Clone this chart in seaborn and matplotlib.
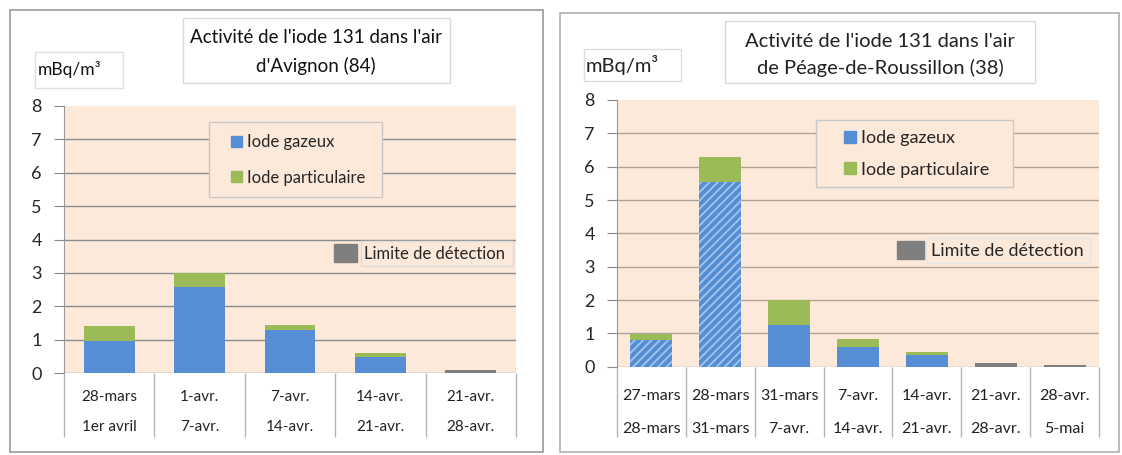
import matplotlib
matplotlib.use("Agg")
import matplotlib.pyplot as plt
from matplotlib.patches import Rectangle, Patch
import seaborn as sns

# Avignon (84)
avignon_periods = ["28-mars\n1er avril", "1-avr.\n7-avr.", "7-avr.\n14-avr.",
                   "14-avr.\n21-avr.", "21-avr.\n28-avr."]
avignon_gazeux = [0.97, 2.57, 1.30, 0.49, 0.0]
avignon_particulaire = [0.44, 0.43, 0.14, 0.11, 0.0]
avignon_limite = [0.0, 0.0, 0.0, 0.0, 0.09]

# Péage-de-Roussillon (38)
peage_periods = ["27-mars\n28-mars", "28-mars\n31-mars", "31-mars\n7-avr.",
                 "7-avr.\n14-avr.", "14-avr.\n21-avr.", "21-avr.\n28-avr.",
                 "28-avr.\n5-mai"]
peage_gazeux = [0.80, 5.55, 1.25, 0.58, 0.35, 0.0, 0.0]
peage_particulaire = [0.17, 0.75, 0.75, 0.25, 0.10, 0.0, 0.0]
peage_limite = [0.0, 0.0, 0.0, 0.0, 0.0, 0.12, 0.05]
peage_hatched = [0, 1]

y_ticks = list(range(9))
unit_label = "mBq/m³"
title_avignon = "Activité de l'iode 131 dans l'air\nd'Avignon (84)"
title_peage = "Activité de l'iode 131 dans l'air\nde Péage-de-Roussillon (38)"
legend_labels = ["Iode gazeux", "Iode particulaire"]
limite_label = "Limite de détection"

BLUE = "#558ed5"
GREEN = "#9bbb59"
GRAY = "#7f7f7f"
PEACH = "#fde9d9"

sns.set_style("white")
plt.rcParams["font.family"] = ["Lato", "DejaVu Sans"]
plt.rcParams["hatch.linewidth"] = 1.3

W, H = 1122, 455
fig = plt.figure(figsize=(W / 100, H / 100), dpi=100)
fig.patch.set_facecolor("white")


def fx(x):
    return x / W


def fy(y):
    return 1 - y / H


def box(x0, y0, x1, y1, **kw):
    r = Rectangle((fx(x0), fy(y1)), (x1 - x0) / W, (y1 - y0) / H,
                  transform=fig.transFigure, **kw)
    fig.add_artist(r)
    return r


def add_axes(x0, y0, x1, y1):
    return fig.add_axes([fx(x0), fy(y1), (x1 - x0) / W, (y1 - y0) / H])


def legend(handles, labels, x, y, **kw):
    leg = fig.legend(handles, labels, loc="center left",
                     bbox_to_anchor=(fx(x), fy(y)),
                     bbox_transform=fig.transFigure, frameon=False,
                     borderpad=0, borderaxespad=0, **kw)
    leg.set_zorder(5)
    return leg


def panel(ax, periods, gazeux, part, limite, hatched, grid_color, width,
          table_bottom, label_size, label_spacing, label_pad):
    total = [g + p for g, p in zip(gazeux, part)]
    common = dict(x=periods, width=width, saturation=1, errorbar=None, ax=ax,
                  linewidth=0)
    sns.barplot(y=total, color=GREEN, **common)
    sns.barplot(y=gazeux, color=BLUE, **common)
    sns.barplot(y=limite, color=GRAY, **common)
    for i in hatched:
        bar = ax.containers[1][i]
        bar.set_hatch("////")
        bar.set_edgecolor("#a3c4ee")
        bar.set_linewidth(0)

    n = len(periods)
    ax.set_xlim(-0.5, n - 0.5)
    ax.set_ylim(0, 8)
    ax.set_yticks(y_ticks)
    ax.set_facecolor(PEACH)
    ax.set_axisbelow(True)
    ax.yaxis.grid(True, color=grid_color, lw=1)
    ax.yaxis.get_gridlines()[-1].set_visible(False)
    for s in ["top", "right", "bottom"]:
        ax.spines[s].set_visible(False)
    ax.spines["left"].set_color("#999999")
    ax.tick_params(axis="y", length=7, color="#888888", labelsize=13,
                   pad=9, left=True)
    ax.tick_params(axis="x", length=0, labelsize=label_size, pad=label_pad)
    for lbl in ax.get_xticklabels():
        lbl.set_linespacing(label_spacing)
        lbl.set_color("#222222")
    ax.set_xlabel("")
    ax.set_ylabel("")
    ax.vlines([i - 0.5 for i in range(n + 1)], table_bottom, 0,
              transform=ax.get_xaxis_transform(), colors="#b4b4b4", lw=1,
              clip_on=False)


# outer frames
box(10, 10, 543, 452, fill=False, edgecolor="#9a9a9a", lw=1.2)
box(560, 13, 1119, 452, fill=False, edgecolor="#b0b0b0", lw=1.2)

# ---- left panel
ax1 = add_axes(64, 106, 516, 373)
panel(ax1, avignon_periods, avignon_gazeux, avignon_particulaire,
      avignon_limite, [], "#8c8c8c", 0.56, -0.24, 11, 2.45, 12)

box(183, 18, 450, 83, facecolor="white", edgecolor="#d9d9d9", lw=1)
fig.text(fx(316), fy(52), title_avignon, ha="center", va="center",
         fontsize=13.5, linespacing=1.75, color="#111111")
box(35, 52, 123, 88, facecolor="white", edgecolor="#e0e0e0", lw=1)
fig.text(fx(38), fy(70), unit_label, ha="left", va="center", fontsize=12.5,
         color="#111111")

box(209, 122, 382, 197, facecolor=PEACH, edgecolor="#c8c8c8", lw=1, zorder=3)
legend([Patch(color=BLUE), Patch(color=GREEN)], legend_labels, 231, 160,
       fontsize=12, handlelength=0.65, handleheight=0.65, handletextpad=0.3,
       labelspacing=1.15)
box(361, 241, 513, 266, facecolor=PEACH, edgecolor="#dcdcdc", lw=1, zorder=3)
legend([Patch(color=GRAY)], [limite_label], 334, 253, fontsize=12,
       handlelength=1.4, handleheight=1.2, handletextpad=0.4)

# ---- right panel
ax2 = add_axes(617, 100, 1099, 366.7)
panel(ax2, peage_periods, peage_gazeux, peage_particulaire, peage_limite,
      peage_hatched, "#b0a39c", 0.61, -0.264, 11.5, 2.7, 16)

box(725, 21, 1035, 83, facecolor="white", edgecolor="#d9d9d9", lw=1)
fig.text(fx(880), fy(55), title_peage, ha="center", va="center",
         fontsize=14.5, linespacing=1.6, color="#222222")
box(584, 49, 681, 81, facecolor="white", edgecolor="#dddddd", lw=1)
fig.text(fx(586), fy(65), unit_label, ha="left", va="center", fontsize=14.5,
         color="#222222")

box(816, 120, 1013, 187, facecolor=PEACH, edgecolor="#c8c8c8", lw=1, zorder=3)
legend([Patch(color=BLUE), Patch(color=GREEN)], legend_labels, 844, 154,
       fontsize=13, handlelength=0.65, handleheight=0.65, handletextpad=0.3,
       labelspacing=0.85)
box(926, 238, 1090, 263, facecolor=PEACH, edgecolor="#e6e6e6", lw=1, zorder=3)
legend([Patch(color=GRAY)], [limite_label], 897, 250, fontsize=13,
       handlelength=1.5, handleheight=1.2, handletextpad=0.4)

fig.savefig("out.png", dpi=100)
